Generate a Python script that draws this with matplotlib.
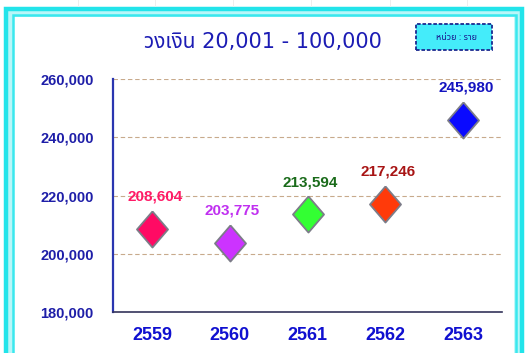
import matplotlib
matplotlib.use('Agg')
import matplotlib.pyplot as plt
from matplotlib import font_manager
from matplotlib.patches import Rectangle
from matplotlib.ticker import FuncFormatter

# ------------------------------------------------------------------ DATA
years = ['2559', '2560', '2561', '2562', '2563']
debtors = [208604, 203775, 213594, 217246, 245980]
y_ticks = [180000, 200000, 220000, 240000, 260000]

title_text = 'วงเงิน 20,001 - 100,000'
unit_text = 'หน่วย : ราย'

marker_colors = ['#ff0a64', '#cc33ff', '#33ff33', '#ff3a0a', '#0a0aff']
label_colors = ['#ff1a66', '#c030f0', '#1a6b1a', '#a81414', '#1414c0']

# ------------------------------------------------------------------ FONTS
# pick whichever Thai-capable family is around for the Thai text
thai_candidates = ['Noto Sans Thai', 'Sarabun', 'Tahoma', 'Noto Sans Thai Looped',
                   'Bai Jamjuree', 'Athiti']
available = {f.name for f in font_manager.fontManager.ttflist}
thai_font = next((f for f in thai_candidates if f in available), 'DejaVu Sans')
num_font = 'Liberation Sans'

# ------------------------------------------------------------------ FIGURE
W, H = 526, 353
fig = plt.figure(figsize=(W / 100, H / 100), dpi=100)
fig.patch.set_facecolor('white')


def px(x, y):
    # pixel coords (origin top-left) -> figure fraction
    return x / W, 1 - y / H


# faint sheet gridlines above the chart frame
for gx in [78, 155, 233, 311, 390, 467]:
    fig.add_artist(plt.Line2D([gx / W, gx / W], [1, 1 - 6 / H],
                              color='#eeeeee', lw=0.7))

# double cyan frame
def frame(x0, y0, x1, y1, lw, color):
    fig.add_artist(Rectangle(px(x0, y1), (x1 - x0) / W, (y1 - y0) / H,
                             transform=fig.transFigure, fill=False,
                             lw=lw, ec=color, zorder=0.5))


frame(8.5, 11.5, 518.5, 370, 7.0, '#b8f6f8')
frame(6, 9, 521.5, 372, 3.2, '#22e4ea')
frame(13, 15, 515.5, 366, 1.8, '#3ae8ee')

ax = fig.add_axes([113 / W, 1 - 312 / H, (502 - 113) / W, (312 - 79) / H])
ax.set_facecolor('white')

x = list(range(len(years)))
for xi, val, mc in zip(x, debtors, marker_colors):
    ax.plot(xi, val, marker=[(0, 1), (0.86, 0), (0, -1), (-0.86, 0), (0, 1)],
            ms=26, mfc=mc, mec='#7c7c88', mew=1.3, ls='none', zorder=3)

for xi, val, lc in zip(x, debtors, label_colors):
    ax.annotate(f'{val:,}', (xi, val), xytext=(2, 23), textcoords='offset points',
                ha='center', va='center', color=lc, fontsize=11,
                fontweight='bold', family=num_font, zorder=4)

ax.set_xlim(-0.5, len(years) - 0.5)
ax.set_ylim(y_ticks[0], y_ticks[-1])
ax.set_yticks(y_ticks)
ax.yaxis.set_major_formatter(FuncFormatter(lambda v, _: f'{int(v):,}'))
ax.set_xticks(x)
ax.set_xticklabels(years)

ax.tick_params(axis='both', length=0)
ax.tick_params(axis='y', pad=14)
ax.tick_params(axis='x', pad=11)
for lab in ax.get_yticklabels():
    lab.set(family=num_font, fontweight='bold', fontsize=10.5, color='#1e1ea8')
for lab in ax.get_xticklabels():
    lab.set(family=num_font, fontweight='bold', fontsize=13, color='#1010d0')

# dashed horizontal gridlines
for yv in y_ticks[1:]:
    ax.axhline(yv, color='#c8aa8c', lw=0.8, ls=(0, (4, 2.5)), zorder=1)

ax.spines['top'].set_visible(False)
ax.spines['right'].set_visible(False)
ax.spines['left'].set_color('#2a36b0')
ax.spines['left'].set_linewidth(1.6)
ax.spines['bottom'].set_color('#34345a')
ax.spines['bottom'].set_linewidth(1.2)

# title
tx, ty = px(263, 42)
fig.text(tx, ty, title_text, ha='center', va='center', fontsize=15,
         color='#1c1cb4', family=['DejaVu Sans', thai_font])

# unit box
bx0, by1 = px(416, 50)
fig.add_artist(Rectangle((bx0, by1), 76 / W, 26 / H, transform=fig.transFigure,
                         fc='#44ecfa', ec='#1a2a90', lw=1.3, ls=(0, (2, 1)),
                         zorder=2))
ux, uy = px(457, 37)
fig.text(ux, uy, unit_text, ha='center', va='center', fontsize=6.5,
         color='#1a1a90', family=[thai_font, 'DejaVu Sans'], zorder=3)

fig.savefig('out.png', dpi=100, facecolor=fig.get_facecolor())
